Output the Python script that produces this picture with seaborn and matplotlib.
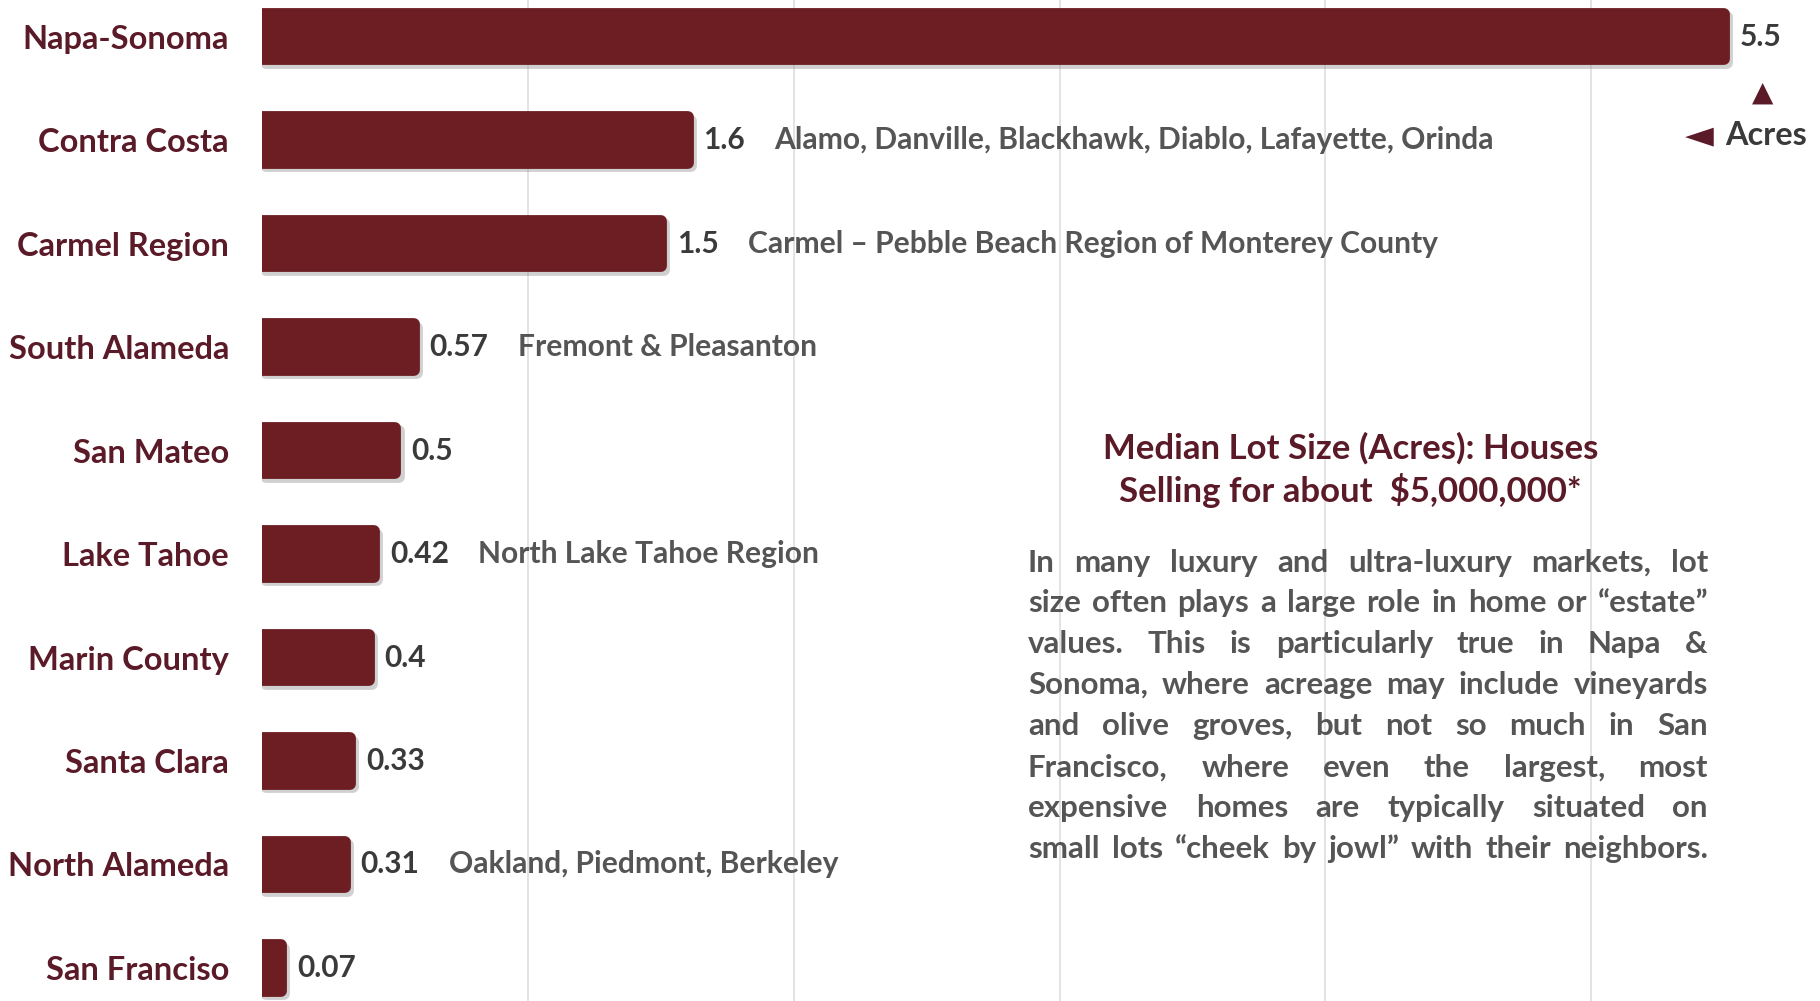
import matplotlib
matplotlib.use("Agg")
import matplotlib.pyplot as plt
import matplotlib.patheffects as pe
import pandas as pd
import seaborn as sns

# ---- data ----
regions = ["Napa-Sonoma", "Contra Costa", "Carmel Region", "South Alameda", "San Mateo",
           "Lake Tahoe", "Marin County", "Santa Clara", "North Alameda", "San Franciso"]
acres = [5.5, 1.6, 1.5, 0.57, 0.5, 0.42, 0.4, 0.33, 0.31, 0.07]
value_labels = ["5.5", "1.6", "1.5", "0.57", "0.5", "0.42", "0.4", "0.33", "0.31", "0.07"]
notes = ["",
         "Alamo, Danville, Blackhawk, Diablo, Lafayette, Orinda",
         "Carmel \u2013 Pebble Beach Region of Monterey County",
         "Fremont & Pleasanton",
         "",
         "North Lake Tahoe Region",
         "",
         "",
         "Oakland, Piedmont, Berkeley",
         ""]
grid_ticks = [1, 2, 3, 4, 5]
title_lines = ["Median Lot Size (Acres): Houses",
               "Selling for about  $5,000,000*"]
body_lines = [
    "In many luxury and ultra-luxury markets, lot",
    "size often plays a large role in home or \u201cestate\u201d",
    "values. This is particularly true in Napa &",
    "Sonoma, where acreage may include vineyards",
    "and olive groves, but not so much in San",
    "Francisco, where even the largest, most",
    "expensive homes are typically situated on",
    "small lots \u201ccheek by jowl\u201d with their neighbors.",
]

# ---- style ----
BAR = "#6c1e23"
MAROON = "#5a1a27"
DARK = "#3a3a3a"
GRAY = "#555555"
GRID = "#dedede"

W, H = 1820, 1001
sns.set_theme(style="white")
plt.rcParams["font.family"] = ["Lato", "DejaVu Sans"]
plt.rcParams["font.weight"] = "bold"

fig = plt.figure(figsize=(W / 100, H / 100), dpi=100)
fig.patch.set_facecolor("white")

x0_px = 262.3          # pixel position of zero on the value axis
px_per_acre = 265.75
ax = fig.add_axes([x0_px / W, 0, 1 - x0_px / W, 1])

df = pd.DataFrame({"region": regions, "acres": acres})
sns.barplot(data=df, x="acres", y="region", orient="h", color=BAR,
            saturation=1, width=0.437, linewidth=8.5, edgecolor=BAR, ax=ax)

# thick same-colour outline with round joins gives the soft rounded bar ends,
# plus a light drop shadow below and to the right
for p in ax.patches:
    p.set_joinstyle("round")
    p.set_zorder(3)
    p.set_path_effects([
        pe.SimplePatchShadow(offset=(2.5, -2.5), shadow_rgbFace="#8a8a8a", alpha=0.4),
        pe.SimpleLineShadow(offset=(2.5, -2.5), shadow_color="#8a8a8a", alpha=0.4),
        pe.Normal(),
    ])

ax.set_xlim(0, (W - x0_px) / px_per_acre)
ax.set_ylim(9.319, -0.353)
ax.set_xticks(grid_ticks)
ax.set_xticklabels([])
ax.grid(axis="x", color=GRID, linewidth=1.2)
ax.grid(axis="y", visible=False)
ax.set_axisbelow(True)
for s in ax.spines.values():
    s.set_visible(False)
ax.set_xlabel("")
ax.set_ylabel("")
ax.tick_params(axis="x", length=0)
ax.tick_params(axis="y", length=0, pad=24, labelsize=23.5, labelcolor=MAROON)
for t in ax.get_yticklabels():
    t.set_fontweight("bold")

# value labels and region notes
for i, (v, lbl, note) in enumerate(zip(acres, value_labels, notes)):
    vt = ax.annotate(lbl, xy=(v, i), xytext=(11.5, 0), textcoords="offset points",
                     ha="left", va="center", fontsize=21.5, color=DARK,
                     fontweight="bold", zorder=4)
    if note:
        ax.annotate(note, xy=(1, 0.5), xycoords=vt, xytext=(21, 0),
                    textcoords="offset points", ha="left", va="center",
                    fontsize=21.6, color=GRAY, fontweight="bold", zorder=4)

# unit marker near the top-right
fig.text(1763 / W, 1 - 93 / H, "\u25b2", ha="center", va="center",
         fontsize=20, color=MAROON, family=["DejaVu Sans"])
fig.text(1699 / W, 1 - 136 / H, "\u25c4", ha="center", va="center",
         fontsize=27, color=MAROON, family=["DejaVu Sans"])
fig.text(1725 / W, 1 - 145 / H, "Acres", ha="left", va="baseline",
         fontsize=23.3, color=DARK, fontweight="bold")

# title block
fig.text(1350.7 / W, 1 - 459 / H, title_lines[0], ha="center", va="baseline",
         fontsize=25, color=MAROON, fontweight="bold")
fig.text(1350.7 / W, 1 - 502 / H, title_lines[1], ha="center", va="baseline",
         fontsize=25, color=MAROON, fontweight="bold")

# justified body paragraph
renderer = fig.canvas.get_renderer()
left_px, right_px = 1028, 1708
baselines = [571.7, 611.7, 652.7, 694, 735, 776.7, 817, 858]
for line, yb in zip(body_lines, baselines):
    words = line.split()
    arts = [fig.text(0, 1 - yb / H, wd, ha="left", va="baseline", fontsize=22.5,
                     color=GRAY, fontweight="bold") for wd in words]
    widths = [a.get_window_extent(renderer).width for a in arts]
    gap = (right_px - left_px - sum(widths)) / (len(words) - 1)
    xp = left_px
    for a, wdt in zip(arts, widths):
        a.set_x(xp / W)
        xp += wdt + gap

fig.savefig("out.png", dpi=100, facecolor="white")
